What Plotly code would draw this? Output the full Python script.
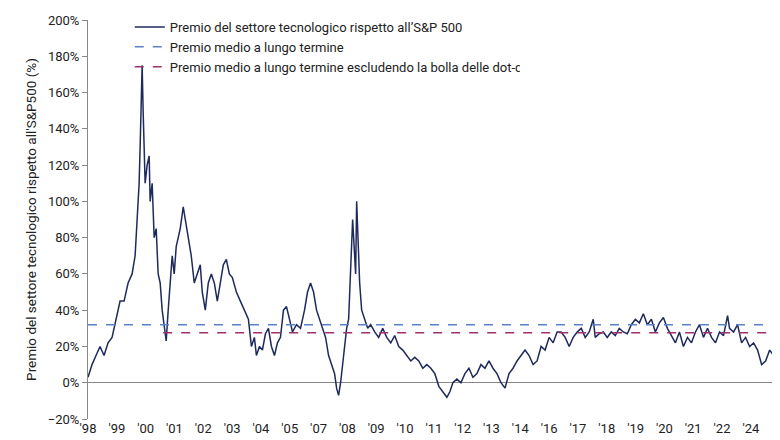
import plotly.graph_objects as go

tick_labels = ["'98","'99","'00","'01","'02","'03","'04","'05","'07","'08","'09","'10","'11","'12",
               "'13","'14","'16","'17","'18","'19","'20","'21","'22","'24","'25"]

# position read along the axis (reading scale: 80 = '98 ... 770 = '25) and premium (%)
pos = [80,84,88,92,96,100,104,108,112,116,120,124,127,129,131,132,133,134,135,136,137,139,141,142,144,146,148,150,152,154,156,158,160,162,164,166,168,170,172,175,177,180,183,186,189,192,194,197,200,203,206,209,212,215,218,221,224,228,232,236,240,243,246,248,251,254,257,260,263,266,269,272,275,278,281,284,288,292,296,299,302,305,308,311,314,317,320,323,326,328,330,332,334,336,338,340,342,344,345,347,348,349,351,353,356,359,362,366,370,374,378,382,386,390,394,398,402,406,410,414,418,422,426,430,434,438,441,444,448,452,456,460,464,468,472,476,480,484,488,492,496,500,504,508,512,516,520,524,528,532,536,540,544,548,552,556,560,564,568,572,576,580,584,586,590,594,598,602,606,610,614,618,622,626,630,634,638,642,646,650,654,658,662,666,670,674,678,682,686,690,694,698,702,706,710,714,718,720,724,728,732,736,740,744,748,752,756,760,764,768,770]
premium = [3,10,15,20,15,22,25,35,45,45,55,60,70,90,110,130,160,175,150,130,110,120,125,100,110,80,85,60,55,40,30,23,40,55,70,60,75,80,85,97,90,80,70,55,60,65,50,40,55,60,55,45,55,65,68,60,58,50,45,40,35,20,25,15,20,18,27,30,20,15,22,25,40,42,35,28,32,30,40,50,55,50,40,35,30,25,15,10,5,-3,-7,0,10,20,30,35,60,90,80,60,100,85,55,40,35,30,32,28,25,30,25,22,26,20,18,15,12,14,12,8,10,8,5,-2,-5,-8,-5,0,2,0,5,8,3,5,10,8,12,8,5,0,-3,5,8,12,15,18,15,10,12,20,18,25,22,28,28,25,20,25,28,30,25,28,35,25,27,28,25,28,26,30,28,27,32,35,33,38,32,35,28,33,36,30,26,22,28,20,25,22,28,32,25,30,25,22,28,26,37,30,28,32,22,25,20,22,18,10,12,18,15,20,19]

long_avg = 32
exdot_avg = 27.5
exdot_start = 155

def to_idx(p):
    return (p - 80) / 28.75

x = [to_idx(p) for p in pos]
xs = to_idx(exdot_start)
xe = len(tick_labels) - 1

fig = go.Figure()
fig.add_trace(go.Scatter(x=x, y=premium, mode="lines", line=dict(color="#1f2a5c", width=1.5),
                         name="Premio del settore tecnologico rispetto all’S&P 500"))
fig.add_trace(go.Scatter(x=[0, xe + 0.15], y=[long_avg, long_avg], mode="lines",
                         line=dict(color="#5b82c4", width=1.5, dash="dash"),
                         name="Premio medio a lungo termine"))
fig.add_trace(go.Scatter(x=[xs, xe + 0.15], y=[exdot_avg, exdot_avg], mode="lines",
                         line=dict(color="#a0306e", width=1.5, dash="dash"),
                         name="Premio medio a lungo termine escludendo la bolla delle dot-com"))

fig.update_layout(
    width=780, height=440, margin=dict(l=80, r=4, t=12, b=29),
    plot_bgcolor="white", paper_bgcolor="white",
    font=dict(family="Roboto", size=13, color="#222"),
    showlegend=True,
    legend=dict(orientation="h", x=0.06, y=1.02, xanchor="left", yanchor="top",
                bgcolor="rgba(255,255,255,0)", font=dict(size=13), tracegroupgap=0,
                entrywidth=345, entrywidthmode="pixels"),
    xaxis=dict(range=[0, xe + 0.15], tickvals=list(range(len(tick_labels))), ticktext=tick_labels,
               showgrid=False, zeroline=False, showline=False, ticks=""),
    yaxis=dict(range=[-20, 200], dtick=20, ticksuffix="%", showgrid=False,
               zeroline=True, zerolinecolor="#888", zerolinewidth=1,
               showline=True, linecolor="#888", ticks="outside", ticklen=5, tickcolor="#888",
               title=dict(text="Premio del settore tecnologico rispetto all'S&P500 (%)", standoff=8,
                          font=dict(size=13.5))),
)
fig.write_html("out.html")
